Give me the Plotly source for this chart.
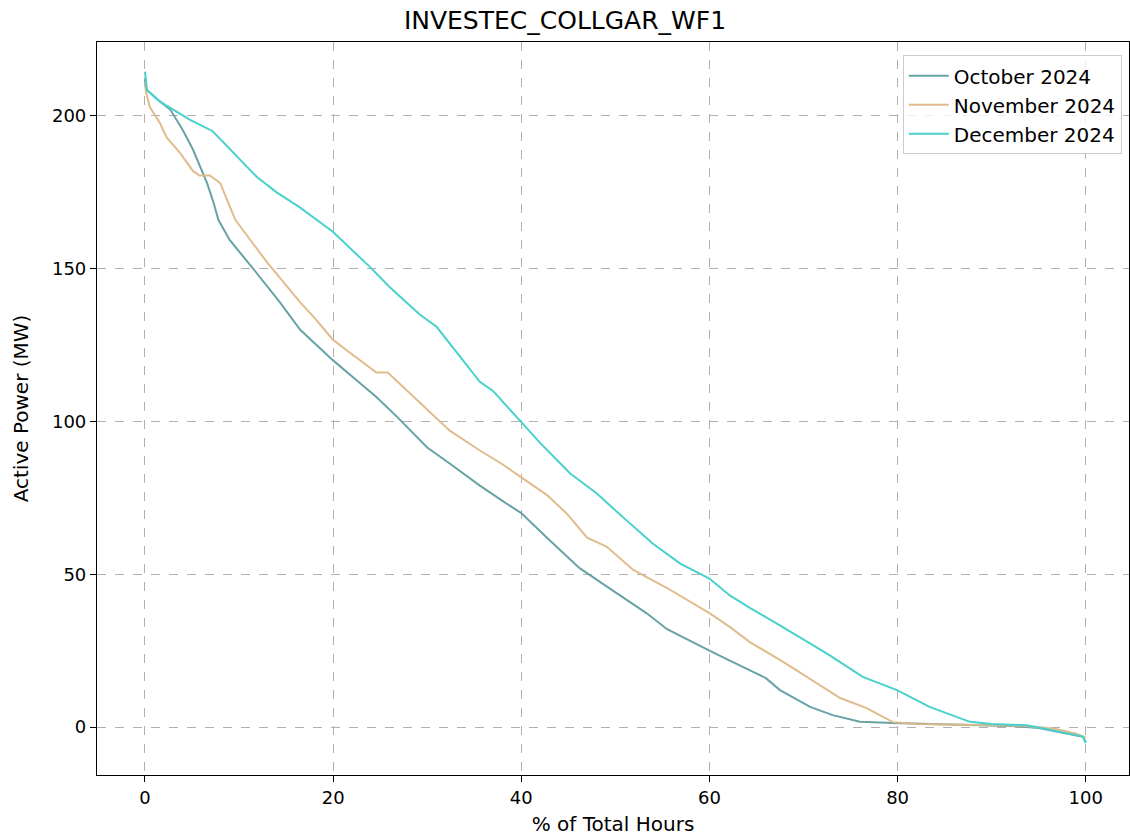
import plotly.graph_objects as go

# October 2024
oct_x = [0, 0.2, 1.5, 2.7, 4.0, 5.1, 6.6, 7.3, 7.8, 9.0, 11.5, 14.35, 16.5, 20, 22.3, 24.6, 26.8, 28.2,
         30, 32.5, 35.6, 38, 40, 42.7, 46.2, 49.7, 53.3, 55.5, 58, 60, 62, 64.3, 66, 67.5, 70.7, 73.1,
         76, 79.5, 85, 90, 93, 95, 97, 99, 99.7, 100]
oct_y = [212, 208.5, 205, 202, 195.5, 189, 178, 171.5, 166, 159.4, 150, 139, 130, 120, 114, 108, 101.5, 97,
         91.5, 86, 79, 74, 70, 62, 52, 44.7, 37.3, 32, 28, 25, 22, 18.7, 16, 12.1, 6.6, 3.9,
         1.7, 1.3, 0.8, 0.5, 0.2, -0.3, -1.5, -2.8, -3.2, -5]

# November 2024
nov_x = [0, 0.1, 0.5, 1.6, 2.3, 3.7, 5.1, 5.8, 6.9, 8.0, 9.0, 9.6, 11.2, 13, 14.35, 16.5, 18, 20, 22,
         24.6, 25.8, 28.2, 30, 32.4, 35.6, 38, 40, 42.7, 44.8, 47, 49.1, 51.9, 55.5, 58, 60, 62.2,
         64.3, 67.8, 71.4, 73.9, 76.7, 79.5, 82, 85, 90, 93, 95, 97, 99, 100]
nov_y = [211, 208, 203, 197.6, 193, 188, 182, 180.5, 180.5, 178, 170.5, 166, 159.4, 152, 147, 139, 134, 126.7, 122,
         116, 116, 109, 104, 97, 90.5, 86, 81.7, 76, 70, 62, 59, 51.4, 45.5, 41, 37.3, 32.7,
         27.8, 21.4, 14.4, 9.5, 6.2, 1.6, 1.0, 0.8, 0.6, 0.4, 0, -0.7, -2.2, -3.5]

# December 2024
dec_x = [0, 0.2, 1.6, 3.0, 4.8, 7.2, 9.4, 11.9, 14.0, 16.5, 20, 23.9, 26, 29.2, 31, 32.1, 35.6, 37, 40,
         42, 45.2, 48, 50.8, 54, 56.9, 60, 62.2, 64.3, 67.8, 72.5, 76.3, 80, 83.4, 86.6, 87.7, 90,
         93.7, 97.2, 99.7, 99.9, 100]
dec_y = [214.5, 208.5, 204.7, 202, 198.7, 195, 188, 180, 175, 170, 162, 150.6, 144, 135, 131, 126.7, 113, 110, 100,
         93, 83, 76.5, 68.7, 60, 53.5, 48.6, 43, 39, 32.7, 24, 16.4, 12, 6.6, 2.9, 1.7, 1.0,
         0.6, -1.5, -3.1, -4.5, -5.3]

series = [
    ("October 2024", oct_x, oct_y, "rgba(95,158,160,0.95)"),
    ("November 2024", nov_x, nov_y, "rgba(222,184,135,0.95)"),
    ("December 2024", dec_x, dec_y, "rgba(72,209,204,1)"),
]

fig = go.Figure()
for name, xs, ys, col in series:
    fig.add_trace(go.Scatter(x=xs, y=ys, mode="lines", name=name,
                             line=dict(color=col, width=2)))

font = "DejaVu Sans, sans-serif"
axis_common = dict(
    showline=True, linecolor="black", linewidth=1.2, mirror=True,
    ticks="outside", ticklen=6, tickcolor="black", tickwidth=1,
    showgrid=True, gridcolor="#b0b0b0", griddash="dash", gridwidth=1,
    zeroline=False, tickfont=dict(family=font, size=18, color="black"),
)

fig.update_layout(
    width=1130, height=836,
    margin=dict(l=97, r=1, t=42, b=61),
    paper_bgcolor="white", plot_bgcolor="white",
    title=dict(text="INVESTEC_COLLGAR_WF1", x=0.5, xanchor="center", y=0.976, yanchor="middle",
               font=dict(family=font, size=25, color="black")),
    xaxis=dict(range=[-5.1, 104.6], tickvals=[0, 20, 40, 60, 80, 100],
               title=dict(text="% of Total Hours", font=dict(family=font, size=20, color="black"), standoff=10),
               **axis_common),
    yaxis=dict(range=[-15.7, 224.2], tickvals=[0, 50, 100, 150, 200],
               title=dict(text="Active Power (MW)", font=dict(family=font, size=20, color="black"), standoff=17),
               **axis_common),
    legend=dict(x=0.993, xanchor="right", y=0.982, yanchor="top",
                bgcolor="rgba(255,255,255,0.8)", bordercolor="#cccccc", borderwidth=1,
                font=dict(family=font, size=20, color="black"), itemwidth=40),
    showlegend=True,
)

fig.write_html("out.html", config={"displayModeBar": False},
               post_script="document.body.style.margin='0';document.body.style.overflow='hidden';")
